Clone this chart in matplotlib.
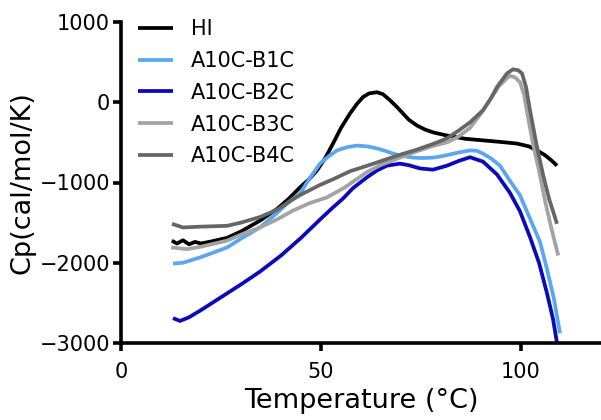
import numpy as np
import matplotlib.pyplot as plt

# Datos (Temperatura en °C, Cp en cal/mol/K)
series = ["HI", "A10C-B1C", "A10C-B2C", "A10C-B3C", "A10C-B4C"]
colores = ["#000000", "#5aa6f0", "#0a0ab8", "#a3a3a3", "#666666"]

t_hi = [12.7, 14, 15.5, 17, 18.5, 20, 23, 26.5, 30, 34.75, 39, 42, 44.75, 47,
        49, 51, 53, 55, 57.25, 59, 60.5, 62, 64, 65.5, 67.25, 69, 70.5, 72,
        74, 76, 78, 81.5, 86, 90.5, 95, 99, 102, 104, 106, 107.5, 109]
cp_hi = [-1725, -1760, -1720, -1770, -1740, -1760, -1730, -1690, -1610,
         -1475, -1330, -1200, -1060, -960, -850, -700, -515, -320, -140, -20,
         65, 110, 125, 100, 25, -60, -140, -220, -290, -340, -375, -415, -455,
         -475, -495, -515, -550, -600, -660, -720, -790]

t_b1 = [13, 15.5, 20, 26.5, 30, 34.75, 39, 42, 44.75, 47, 49.75, 52, 54, 56.5,
        59, 61.5, 64, 66, 68, 70.5, 73, 75.5, 78, 80, 82.25, 84.5, 87.25, 89,
        90.5, 92.5, 94.75, 97.25, 99.75, 102.25, 104.75, 106.5, 108.25, 109.75]
cp_b1 = [-2010, -2000, -1930, -1810, -1700, -1560, -1380, -1240, -1140, -960,
         -765, -670, -600, -560, -540, -550, -575, -605, -640, -670, -690,
         -695, -690, -675, -650, -625, -600, -605, -640, -700, -790, -980,
         -1160, -1450, -1740, -2080, -2450, -2880]

t_b2 = [13, 14.75, 17, 20, 25, 30, 34.75, 40, 45, 50, 53, 55.5, 58, 61.5, 64,
        66.5, 69.75, 72, 74.75, 78, 81.5, 84.5, 87.25, 90.5, 94, 97.25, 99.75,
        102.25, 104.5, 106.5, 108, 109]
cp_b2 = [-2690, -2725, -2680, -2590, -2430, -2270, -2110, -1910, -1690, -1450,
         -1310, -1200, -1070, -935, -850, -790, -765, -785, -825, -840, -790,
         -730, -685, -740, -900, -1130, -1360, -1680, -2000, -2380, -2700,
         -3000]

t_b3 = [12.5, 16.5, 20, 26.5, 30, 34.75, 39, 43, 47, 51.5, 56, 61.5, 65, 69.75,
        74, 78, 81.5, 84, 87.25, 90, 92.5, 94.5, 96.5, 97.25, 98.5, 99.75,
        100.75, 101.75, 103, 104.5, 106, 107.5, 109.3]
cp_b3 = [-1810, -1830, -1800, -1725, -1650, -1560, -1460, -1350, -1260, -1185,
         -1060, -870, -780, -690, -610, -545, -500, -440, -320, -140, 50, 200,
         300, 330, 310, 250, 100, -185, -520, -850, -1225, -1550, -1910]

t_b4 = [12.75, 15.5, 20, 26.5, 30, 34.75, 39, 43, 45, 47, 49.75, 53, 57.25, 61,
        65.5, 70, 74, 78, 81.5, 84.5, 87.25, 90.5, 92.5, 94, 96.5, 98, 99.25,
        100.25, 101.25, 102.25, 104, 105.5, 107, 109]
cp_b4 = [-1515, -1560, -1550, -1540, -1500, -1430, -1340, -1210, -1150, -1100,
         -1030, -960, -860, -800, -725, -650, -590, -520, -450, -350, -250,
         -100, 50, 190, 360, 410, 400, 360, 190, -100, -560, -900, -1200, -1515]

temps = [t_hi, t_b1, t_b2, t_b3, t_b4]
cps = [cp_hi, cp_b1, cp_b2, cp_b3, cp_b4]

x_ticks = [0, 50, 100]
y_ticks = [-3000, -2000, -1000, 0, 1000]

fig = plt.figure(figsize=(6.01, 4.2), dpi=100)
ax = fig.add_axes([121 / 601, 1 - 343 / 420, 480 / 601, 321 / 420])

for t, cp, nombre, c in zip(temps, cps, series, colores):
    ax.plot(t, cp, color=c, lw=2.7, label=nombre, solid_capstyle="butt",
            solid_joinstyle="round")

ax.set_xlim(0, 120)
ax.set_ylim(-3000, 1000)
ax.set_xticks(x_ticks)
ax.set_yticks(y_ticks)

for lado in ["top", "right"]:
    ax.spines[lado].set_visible(False)
for lado in ["left", "bottom"]:
    ax.spines[lado].set_linewidth(2.6)
    ax.spines[lado].set_capstyle("projecting")

ax.tick_params(axis="both", width=2.6, length=6, labelsize=15)
ax.tick_params(axis="x", pad=8)
ax.tick_params(axis="y", pad=2)

ax.set_xlabel("Temperature (°C)", fontsize=19.5, labelpad=4)
ax.set_ylabel("Cp(cal/mol/K)", fontsize=19.5, labelpad=3)

ax.legend(loc="upper left", bbox_to_anchor=(138 / 601, 1 - 19 / 420),
          bbox_transform=fig.transFigure, frameon=False, fontsize=15,
          handlelength=1.7, handletextpad=0.85, labelspacing=0.57,
          borderpad=0, borderaxespad=0)

fig.savefig("out.png", dpi=100)
